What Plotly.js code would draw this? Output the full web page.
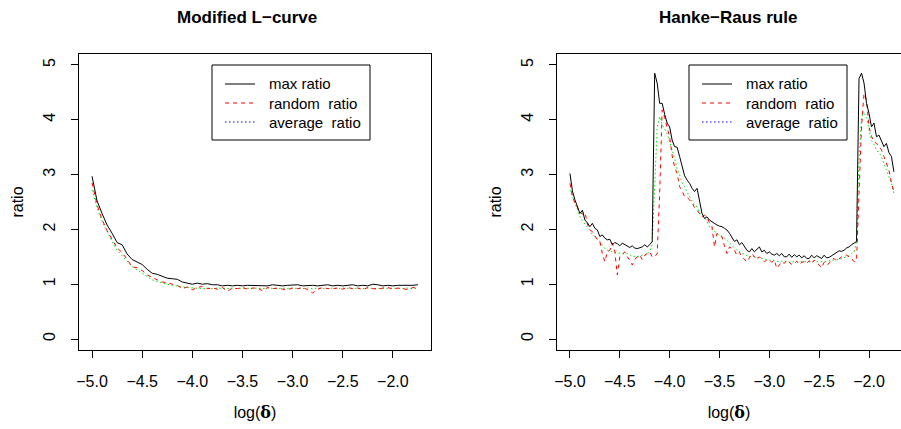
<!DOCTYPE html>
<html><head><meta charset="utf-8">
<script src="https://cdn.plot.ly/plotly-3.0.1.min.js"></script>
<style>body{margin:0;background:#fff}#chart{width:901px;height:429px}</style>
</head><body><div id="chart"></div>
<script>
// grids of log(delta)
const leftX = Array.from({length: 66}, (_, k) => +(-5 + 0.05 * k).toFixed(3));
const rightX = Array.from({length: 131}, (_, k) => +(-5 + 0.025 * k).toFixed(3));

// Modified L-curve
const lMax = [2.97,2.52,2.29,2.08,1.93,1.76,1.72,1.55,1.45,1.41,
1.36,1.27,1.20,1.18,1.15,1.11,1.10,1.09,1.04,1.02,
1.00,1.02,1.00,1.01,0.99,0.99,0.97,0.98,0.97,0.98,
0.97,0.98,0.98,0.97,0.98,0.97,0.99,0.98,0.97,0.98,
0.98,0.99,0.97,0.98,0.98,0.97,0.98,0.99,0.97,0.98,
0.97,0.98,0.99,0.97,0.98,0.97,1.00,0.99,0.97,0.98,
0.97,0.98,0.98,0.97,0.98,0.99];
const lRand = [2.85,2.45,2.18,1.98,1.82,1.66,1.58,1.46,1.32,1.30,
1.25,1.17,1.12,1.08,1.04,1.03,1.00,0.98,0.92,0.95,
0.90,0.94,0.96,0.92,0.93,0.91,0.94,0.87,0.93,0.92,
0.94,0.91,0.93,0.93,0.88,0.94,0.92,0.93,0.91,0.90,
0.93,0.92,0.94,0.90,0.84,0.91,0.94,0.92,0.92,0.93,
0.91,0.94,0.92,0.93,0.90,0.94,0.92,0.91,0.93,0.94,
0.91,0.93,0.92,0.90,0.94,0.93];
const lAvg = [2.72,2.40,2.15,1.95,1.78,1.62,1.52,1.42,1.32,1.26,
1.20,1.13,1.08,1.05,1.02,1.00,0.98,0.96,0.95,0.94,
0.93,0.93,0.92,0.93,0.92,0.93,0.92,0.92,0.93,0.92,
0.93,0.92,0.92,0.93,0.92,0.93,0.92,0.92,0.93,0.92,
0.93,0.92,0.92,0.93,0.92,0.93,0.92,0.92,0.93,0.92,
0.93,0.92,0.92,0.93,0.92,0.93,0.92,0.92,0.93,0.92,
0.93,0.92,0.92,0.93,0.92,0.93];

// Hanke-Raus rule
const hMax = [3.02,2.70,2.54,2.41,2.29,2.35,2.17,2.12,2.05,2.11,
2.02,1.99,1.87,1.90,1.84,1.81,1.82,1.72,1.76,1.74,
1.70,1.75,1.72,1.70,1.67,1.70,1.66,1.65,1.67,1.68,
1.72,1.68,1.72,1.78,4.85,4.67,4.30,4.30,4.10,3.94,
3.87,3.63,3.51,3.50,3.33,3.15,2.98,2.90,2.84,2.75,
2.69,2.75,2.54,2.29,2.20,2.23,2.17,2.14,2.10,2.08,
2.06,2.05,2.02,1.99,1.93,1.86,1.78,1.81,1.72,1.76,
1.70,1.62,1.59,1.65,1.59,1.64,1.68,1.59,1.62,1.56,
1.59,1.55,1.53,1.56,1.52,1.56,1.50,1.50,1.55,1.49,
1.54,1.50,1.53,1.48,1.52,1.47,1.47,1.53,1.48,1.52,
1.50,1.47,1.53,1.48,1.49,1.52,1.56,1.58,1.61,1.60,
1.62,1.66,1.68,1.72,1.75,1.78,4.75,4.85,4.67,4.30,
4.12,3.87,3.94,3.69,3.72,3.60,3.51,3.57,3.40,3.33,
3.05];
const hRand = [2.84,2.60,2.48,2.40,2.32,2.28,2.32,2.10,1.99,1.96,
1.87,1.81,1.78,1.56,1.41,1.59,1.62,1.75,1.59,1.17,
1.50,1.55,1.59,1.50,1.44,1.35,1.45,1.50,1.53,1.45,
1.53,1.56,1.59,1.50,1.50,1.56,2.66,4.18,4.05,3.85,
3.69,3.35,3.14,3.02,2.78,2.70,2.60,2.58,2.54,2.48,
2.40,2.35,2.28,2.23,2.26,2.23,2.12,2.05,1.68,1.93,
1.90,1.87,1.70,1.56,1.68,1.65,1.62,1.53,1.58,1.50,
1.45,1.41,1.48,1.56,1.50,1.45,1.50,1.46,1.41,1.44,
1.44,1.40,1.44,1.29,1.35,1.41,1.38,1.44,1.40,1.36,
1.38,1.42,1.36,1.40,1.41,1.38,1.43,1.38,1.44,1.40,
1.35,1.30,1.40,1.35,1.38,1.45,1.47,1.42,1.46,1.50,
1.50,1.53,1.50,1.47,1.41,1.43,2.66,3.87,4.48,4.36,
3.87,3.70,3.60,3.57,3.51,3.45,3.33,3.20,3.08,2.85,
2.69];
const hAvg = [2.72,2.58,2.48,2.36,2.23,2.16,2.10,2.05,1.98,1.90,
1.85,1.82,1.78,1.72,1.65,1.62,1.60,1.59,1.58,1.57,
1.56,1.56,1.55,1.56,1.54,1.50,1.51,1.50,1.52,1.53,
1.52,1.55,1.59,1.72,2.96,3.87,4.06,3.91,3.83,3.75,
3.60,3.45,3.30,3.10,3.00,2.85,2.78,2.68,2.60,2.50,
2.44,2.41,2.30,2.25,2.23,2.14,2.05,2.00,1.96,1.93,
1.89,1.86,1.84,1.80,1.75,1.70,1.66,1.62,1.60,1.56,
1.55,1.53,1.50,1.51,1.50,1.48,1.47,1.47,1.46,1.45,
1.44,1.44,1.43,1.42,1.41,1.42,1.41,1.41,1.40,1.41,
1.41,1.40,1.41,1.41,1.40,1.41,1.41,1.40,1.41,1.40,
1.41,1.40,1.41,1.42,1.43,1.44,1.44,1.45,1.45,1.47,
1.49,1.50,1.52,1.56,1.59,1.78,3.27,4.06,4.12,4.03,
3.81,3.62,3.55,3.45,3.40,3.33,3.20,3.08,2.96,2.84,
2.66];

const seriesNames = ['max ratio', 'random\u00a0 ratio', 'average\u00a0 ratio'];
const panelTitles = ['Modified L\u2212curve', 'Hanke\u2212Raus rule'];
const tickVals = [-5, -4.5, -4, -3.5, -3, -2.5, -2];
const yTickVals = [0, 1, 2, 3, 4, 5];

const W = 901, H = 429, MT = 54, MB = 79, PH = H - MT - MB;
const px = v => v / W;
const py = v => (H - MB - v) / PH;

const FONT = 'Liberation Sans, Arial, Helvetica, sans-serif';
const lineStyles = [
  {color: '#000000', width: 1, dash: 'solid'},
  {color: '#ff0000', width: 1, dash: '4px,4px'},
  {color: '#00e000', width: 1, dash: '1.5px,2.5px'}
];
const legendStyles = [
  {color: '#000000', width: 1, dash: 'solid'},
  {color: '#ff0000', width: 1, dash: '4px,4px'},
  {color: '#0000ff', width: 1, dash: '1.5px,2.5px'}
];

const traces = [];
const panels = [
  {x: leftX, ys: [lMax, lRand, lAvg], xa: 'x', ya: 'y', box: 212},
  {x: rightX, ys: [hMax, hRand, hAvg], xa: 'x2', ya: 'y2', box: 689}
];
panels.forEach(p => {
  // draw order: average, random, max (max on top)
  [2, 1, 0].forEach(s => {
    traces.push({type: 'scatter', mode: 'lines', x: p.x, y: p.ys[s], xaxis: p.xa, yaxis: p.ya,
      line: lineStyles[s], showlegend: false, hoverinfo: 'skip', name: seriesNames[s]});
  });
});

const shapes = [];
const annotations = [];
const rowY = [84, 103, 122];
panels.forEach((p, i) => {
  const b = p.box;
  shapes.push({type: 'rect', xref: 'paper', yref: 'paper', x0: px(b), x1: px(b + 158), y0: py(140), y1: py(65),
    line: {color: '#000', width: 1}});
  seriesNames.forEach((nm, s) => {
    shapes.push({type: 'line', xref: 'paper', yref: 'paper', x0: px(b + 13), x1: px(b + 43),
      y0: py(rowY[s]), y1: py(rowY[s]), line: legendStyles[s]});
    annotations.push({text: nm, xref: 'paper', yref: 'paper', x: px(b + 55), y: py(rowY[s]),
      xanchor: 'left', yanchor: 'middle', showarrow: false, font: {family: FONT, size: 15, color: '#000'}});
  });
});

const xAxisBase = {
  tickvals: tickVals, tickformat: '.1f', ticks: 'outside', ticklen: 7, ticklabelstandoff: 10,
  tickcolor: '#000', tickwidth: 1, showline: true, linecolor: '#000', linewidth: 1,
  showgrid: false, zeroline: false, tickfont: {family: FONT, size: 16, color: '#000'},
  title: {text: 'log(<span style="font-family:DejaVu Serif;font-weight:bold">\u03b4</span>)',
    font: {family: FONT, size: 16, color: '#000'}, standoff: 17}
};
const yAxisBase = {
  range: [-0.2, 5.2], tickvals: yTickVals, ticks: 'outside', ticklen: 7, tickangle: -90, ticklabelstandoff: 10,
  tickcolor: '#000', tickwidth: 1, showline: true, linecolor: '#000', linewidth: 1,
  showgrid: false, zeroline: false, tickfont: {family: FONT, size: 16, color: '#000'},
  title: {text: 'ratio', font: {family: FONT, size: 16, color: '#000'}, standoff: 12}
};

annotations.push(
  {text: '<b>' + panelTitles[0] + '</b>', xref: 'paper', yref: 'paper', x: px(247), y: py(17), showarrow: false,
    font: {family: FONT, size: 17, color: '#000'}, xanchor: 'center', yanchor: 'middle'},
  {text: '<b>' + panelTitles[1] + '</b>', xref: 'paper', yref: 'paper', x: px(728), y: py(17), showarrow: false,
    font: {family: FONT, size: 17, color: '#000'}, xanchor: 'center', yanchor: 'middle'}
);

const layout = {
  width: W, height: H, margin: {l: 0, r: 0, t: MT, b: MB},
  paper_bgcolor: '#fff', plot_bgcolor: '#fff', showlegend: false,
  xaxis: Object.assign({}, xAxisBase, {domain: [px(79), px(431)], range: [-5.13, -1.62], mirror: true, anchor: 'y'}),
  yaxis: Object.assign({}, yAxisBase, {domain: [0, 1], mirror: true, anchor: 'x'}),
  xaxis2: Object.assign({}, xAxisBase, {domain: [px(557), 1], range: [-5.13, -1.679], mirror: true, anchor: 'y2'}),
  yaxis2: Object.assign({}, yAxisBase, {domain: [0, 1], mirror: false, anchor: 'x2'}),
  shapes: shapes,
  annotations: annotations
};

Plotly.newPlot('chart', traces, layout, {displayModeBar: false, staticPlot: true});
</script>
</body></html>
